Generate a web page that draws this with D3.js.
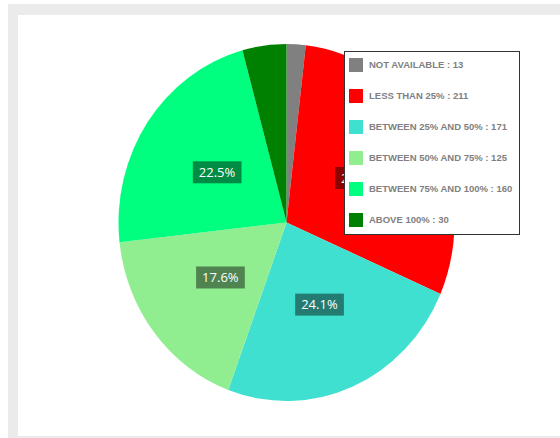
<!DOCTYPE html>
<meta charset="utf-8">
<style>
body { margin: 0; background: #fff; }
.frame { position: absolute; left: 8px; top: 4px; width: 560px; height: 440px; background: #ebebeb; }
.panel { position: absolute; left: 18px; top: 15px; width: 560px; height: 421px; background: #fff; }
svg { position: absolute; left: 0; top: 0; }
.slice-label text { fill: #fff; font: 13px "Open Sans", sans-serif; }
.legend text { fill: #808080; font: bold 9.5px "Liberation Sans", Arial, sans-serif; }
</style>
<div class="frame"></div>
<div class="panel"></div>
<svg width="560" height="438"></svg>
<script src="https://d3js.org/d3.v7.min.js"></script>
<script>

var categories = ["NOT AVAILABLE", "LESS THAN 25%", "BETWEEN 25% AND 50%",
                  "BETWEEN 50% AND 75%", "BETWEEN 75% AND 100%", "ABOVE 100%"];
var counts = [13, 211, 171, 125, 160, 30];
var colors = ["#808080", "#ff0000", "#40e0d0", "#90ee90", "#00ff7f", "#008000"];

var svg = d3.select("svg"),
    cx = 286.5, cy = 222.5,
    radius = 168,
    squash = 178.5 / 168; // picture is a bit taller than wide

var total = d3.sum(counts);
var data = categories.map(function(c, i) { return {name: c, value: counts[i], color: colors[i]}; });

var pie = d3.pie().sort(null).value(function(d) { return d.value; });
var arc = d3.arc().innerRadius(0).outerRadius(radius);
var arcs = pie(data);

svg.append("g")
    .attr("transform", "translate(" + cx + "," + cy + ") scale(1," + squash + ")")
  .selectAll("path")
  .data(arcs)
  .enter().append("path")
    .attr("d", arc)
    .attr("fill", function(d) { return d.data.color; });

// percent labels, only for the bigger slices
var label = svg.append("g")
  .selectAll("g")
  .data(arcs.filter(function(d) { return d.data.value / total > 0.05; }))
  .enter().append("g")
    .attr("class", "slice-label")
    .attr("transform", function(d) {
      var c = arc.centroid(d);
      return "translate(" + (cx + c[0]) + "," + (cy + c[1] * squash) + ")";
    });

label.append("rect").attr("fill", "rgba(0,0,0,0.45)");
label.append("text")
    .attr("text-anchor", "middle")
    .attr("dy", "0.35em")
    .text(function(d) { return (d.data.value / total * 100).toFixed(1) + "%"; });

label.each(function() {
  var g = d3.select(this), b = g.select("text").node().getBBox();
  g.select("rect")
      .attr("x", b.x - 6).attr("y", -11)
      .attr("width", b.width + 12).attr("height", 22);
});

// legend
var legend = svg.append("g")
    .attr("class", "legend")
    .attr("transform", "translate(344.5,51.5)");

legend.append("rect")
    .attr("width", 175)
    .attr("height", 183)
    .attr("fill", "#fff")
    .attr("stroke", "#333");

var item = legend.selectAll(".item")
  .data(data)
  .enter().append("g")
    .attr("class", "item")
    .attr("transform", function(d, i) { return "translate(4.5," + (6.5 + i * 31) + ")"; });

item.append("rect")
    .attr("width", 14)
    .attr("height", 14)
    .attr("fill", function(d) { return d.color; });

item.append("text")
    .attr("x", 20)
    .attr("y", 7)
    .attr("dy", "0.35em")
    .text(function(d) { return d.name + " : " + d.value; });

</script>
